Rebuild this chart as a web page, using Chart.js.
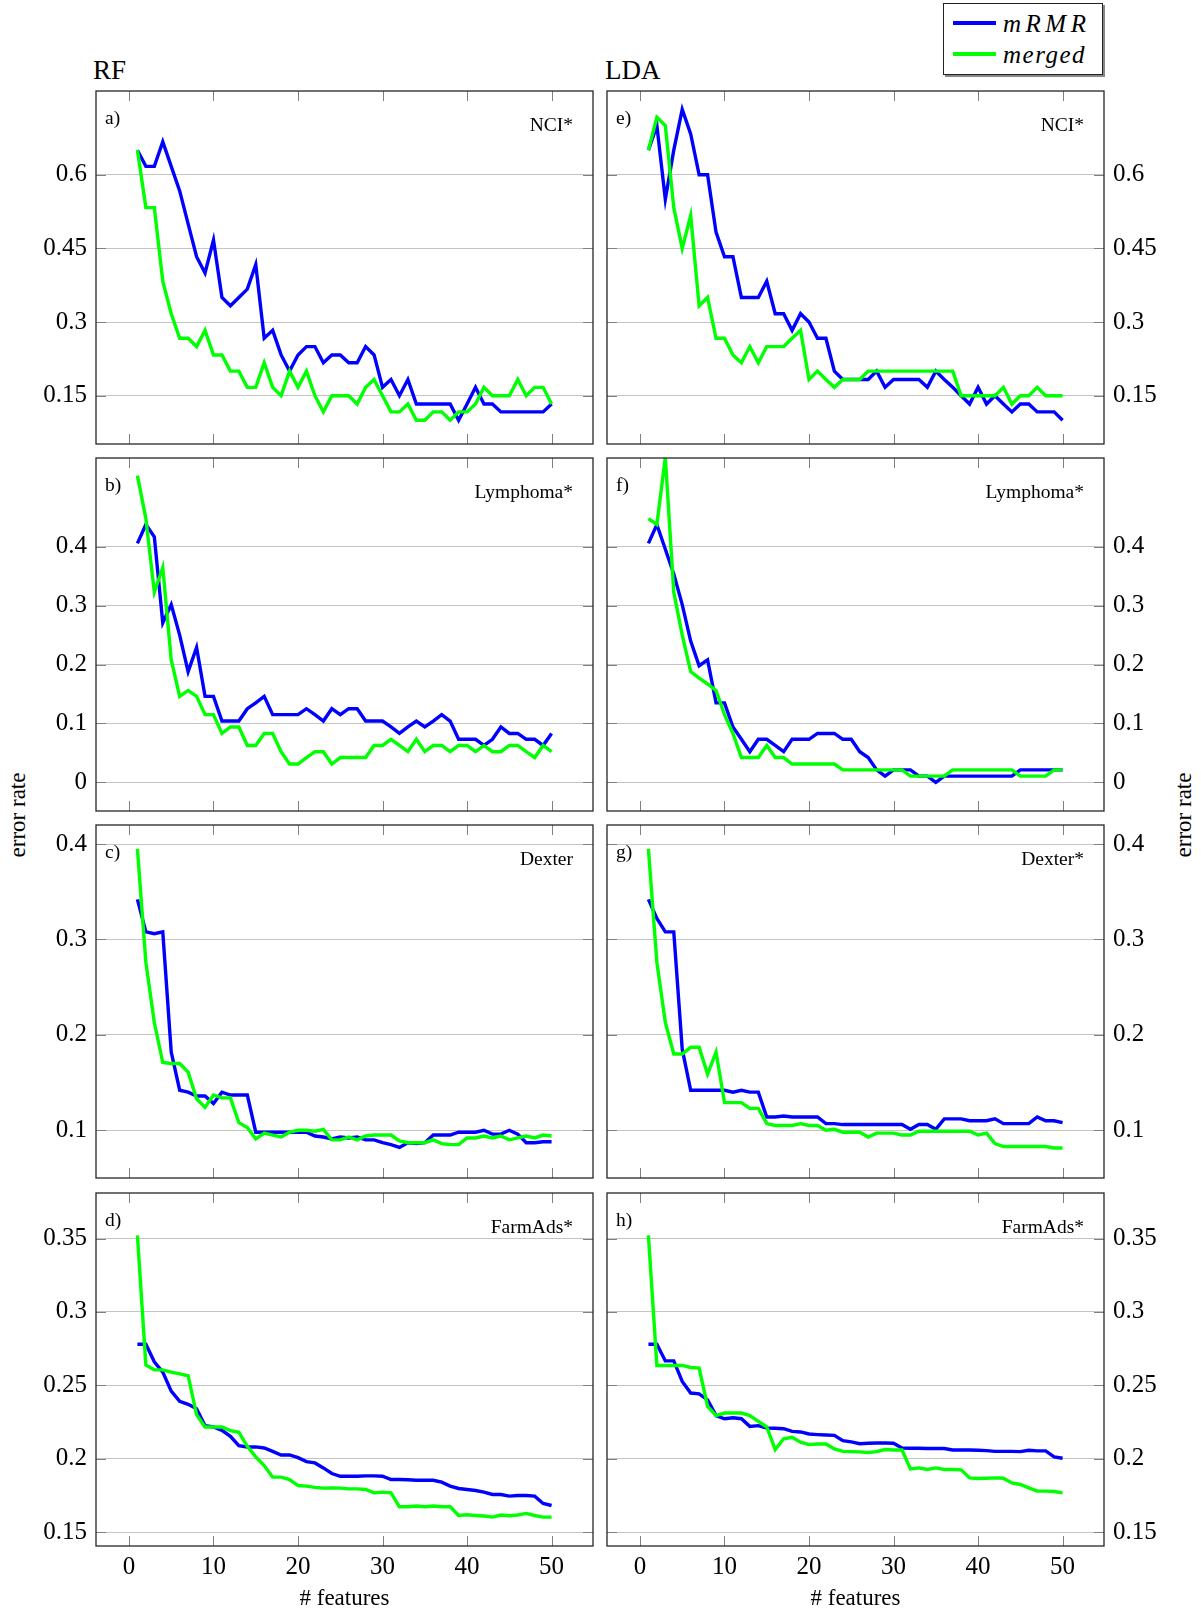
<!DOCTYPE html>
<html>
<head>
<meta charset="utf-8">
<script src="https://cdn.jsdelivr.net/npm/chart.js@4.4.1/dist/chart.umd.min.js"></script>
<style>
  html, body { margin: 0; padding: 0; background: #fff; overflow: hidden; }
  body { width: 1201px; height: 1614px; position: relative; font-family: "Liberation Serif", "Times New Roman", serif; color: #000; }
  canvas { position: absolute; }
  .txt { position: absolute; white-space: nowrap; line-height: 1; }
  .title { font-size: 27px; top: 57px; }
  .ylab { font-size: 23px; top: 815px; transform: translate(-50%, -50%) rotate(-90deg); }
  #legend { position: absolute; left: 943px; top: 3px; width: 160px; height: 72px; box-sizing: border-box;
            border: 1.3px solid #222; box-shadow: 2px 2px 0 #888; background: #fff; }
  #legend .sw { position: absolute; left: 9px; width: 43px; height: 3.6px; }
  #legend .lb { position: absolute; left: 59px; font-size: 25px; font-style: italic; line-height: 24px; white-space: nowrap; }
</style>
</head>
<body>
<div class="txt title" style="left:93px">RF</div>
<div class="txt title" style="left:605px">LDA</div>
<div class="txt ylab" style="left:17px">error rate</div>
<div class="txt ylab" style="left:1183px">error rate</div>
<div id="legend">
  <div class="sw" style="top:17px; background: rgb(0,0,255)"></div>
  <div class="lb" style="top:8px; letter-spacing:4.5px">mRMR</div>
  <div class="sw" style="top:48px; background: rgb(0,255,0)"></div>
  <div class="lb" style="top:39px; letter-spacing:1.5px">merged</div>
</div>
<script>
const features = [1, 2, 3, 4, 5, 6, 7, 8, 9, 10, 11, 12, 13, 14, 15, 16, 17, 18, 19, 20,
  21, 22, 23, 24, 25, 26, 27, 28, 29, 30, 31, 32, 33, 34, 35, 36, 37, 38, 39, 40,
  41, 42, 43, 44, 45, 46, 47, 48, 49, 50];
const xTicks = [0, 10, 20, 30, 40, 50];

const nciTicks = [0.15, 0.3, 0.45, 0.6];
const lymTicks = [0, 0.1, 0.2, 0.3, 0.4];
const dexTicks = [0.1, 0.2, 0.3, 0.4];
const farmTicks = [0.15, 0.2, 0.25, 0.3, 0.35];

// RF
const rfNciMrmr = [0.65, 0.617, 0.617, 0.667, 0.617, 0.567, 0.5, 0.433, 0.4, 0.467,
  0.35, 0.333, 0.35, 0.367, 0.417, 0.267, 0.283, 0.233, 0.2, 0.233,
  0.25, 0.25, 0.217, 0.233, 0.233, 0.217, 0.217, 0.25, 0.233, 0.167,
  0.183, 0.15, 0.183, 0.133, 0.133, 0.133, 0.133, 0.133, 0.1, 0.133,
  0.167, 0.133, 0.133, 0.117, 0.117, 0.117, 0.117, 0.117, 0.117, 0.133];
const rfNciMerged = [0.65, 0.533, 0.533, 0.383, 0.317, 0.267, 0.267, 0.25, 0.283, 0.233,
  0.233, 0.2, 0.2, 0.167, 0.167, 0.217, 0.167, 0.15, 0.2, 0.167,
  0.2, 0.15, 0.117, 0.15, 0.15, 0.15, 0.133, 0.167, 0.183, 0.15,
  0.117, 0.117, 0.133, 0.1, 0.1, 0.117, 0.117, 0.1, 0.117, 0.117,
  0.133, 0.167, 0.15, 0.15, 0.15, 0.183, 0.15, 0.167, 0.167, 0.133];

const rfLymMrmr = [0.406, 0.438, 0.417, 0.271, 0.302, 0.25, 0.188, 0.229, 0.146, 0.146,
  0.104, 0.104, 0.104, 0.125, 0.135, 0.146, 0.115, 0.115, 0.115, 0.115,
  0.125, 0.115, 0.104, 0.125, 0.115, 0.125, 0.125, 0.104, 0.104, 0.104,
  0.094, 0.083, 0.094, 0.104, 0.094, 0.104, 0.115, 0.104, 0.073, 0.073,
  0.073, 0.0625, 0.073, 0.094, 0.083, 0.083, 0.073, 0.073, 0.0625, 0.083];
const rfLymMerged = [0.521, 0.448, 0.323, 0.365, 0.208, 0.146, 0.156, 0.146, 0.115, 0.115,
  0.083, 0.094, 0.094, 0.0625, 0.0625, 0.083, 0.083, 0.052, 0.031, 0.031,
  0.042, 0.052, 0.052, 0.031, 0.042, 0.042, 0.042, 0.042, 0.0625, 0.0625,
  0.073, 0.0625, 0.052, 0.073, 0.052, 0.0625, 0.0625, 0.052, 0.0625, 0.0625,
  0.052, 0.0625, 0.052, 0.052, 0.0625, 0.0625, 0.052, 0.042, 0.0625, 0.052];

const rfDexMrmr = [0.342, 0.308, 0.306, 0.308, 0.182, 0.142, 0.14, 0.136, 0.136, 0.128,
  0.14, 0.137, 0.137, 0.137, 0.098, 0.098, 0.098, 0.098, 0.098, 0.098,
  0.098, 0.094, 0.093, 0.091, 0.093, 0.092, 0.093, 0.09, 0.09, 0.087,
  0.085, 0.082, 0.087, 0.086, 0.087, 0.095, 0.095, 0.095, 0.098, 0.098,
  0.098, 0.1, 0.096, 0.096, 0.1, 0.096, 0.087, 0.087, 0.088, 0.088];
const rfDexMerged = [0.395, 0.276, 0.213, 0.171, 0.17, 0.17, 0.161, 0.133, 0.124, 0.137,
  0.134, 0.134, 0.108, 0.103, 0.091, 0.097, 0.095, 0.093, 0.098, 0.1,
  0.1, 0.099, 0.101, 0.09, 0.09, 0.093, 0.09, 0.094, 0.095, 0.095,
  0.095, 0.089, 0.087, 0.087, 0.087, 0.09, 0.086, 0.085, 0.085, 0.092,
  0.092, 0.094, 0.092, 0.094, 0.09, 0.092, 0.094, 0.092, 0.095, 0.094];

const rfFarmMrmr = [0.278, 0.278, 0.266, 0.259, 0.246, 0.239, 0.237, 0.234, 0.2225, 0.2216,
  0.2193, 0.2152, 0.2089, 0.208, 0.208, 0.2073, 0.205, 0.2025, 0.2025, 0.2007,
  0.198, 0.1971, 0.1937, 0.1899, 0.188, 0.188, 0.188, 0.1883, 0.1883, 0.188,
  0.1858, 0.1858, 0.1856, 0.1853, 0.1853, 0.1853, 0.184, 0.1813, 0.1797, 0.179,
  0.1783, 0.1772, 0.1756, 0.1756, 0.1745, 0.1749, 0.1749, 0.1745, 0.1695, 0.1681];
const rfFarmMerged = [0.3522, 0.2639, 0.2605, 0.2605, 0.2589, 0.2578, 0.2565, 0.23, 0.2216, 0.2216,
  0.2216, 0.2191, 0.218, 0.2084, 0.2012, 0.1953, 0.1874, 0.1874, 0.1858, 0.1817,
  0.1813, 0.1804, 0.1799, 0.1801, 0.1799, 0.1794, 0.1794, 0.179, 0.1767, 0.1772,
  0.1767, 0.1672, 0.1672, 0.1677, 0.1672, 0.1677, 0.1672, 0.1672, 0.1613, 0.1618,
  0.1613, 0.1609, 0.1602, 0.1616, 0.1611, 0.1616, 0.1627, 0.1613, 0.1602, 0.1602];

// LDA
const ldaNciMrmr = [0.65, 0.7, 0.55, 0.65, 0.733, 0.683, 0.6, 0.6, 0.483, 0.433,
  0.433, 0.35, 0.35, 0.35, 0.383, 0.317, 0.317, 0.283, 0.317, 0.3,
  0.267, 0.267, 0.2, 0.183, 0.183, 0.183, 0.183, 0.2, 0.167, 0.183,
  0.183, 0.183, 0.183, 0.167, 0.2, 0.183, 0.167, 0.15, 0.133, 0.167,
  0.133, 0.15, 0.133, 0.117, 0.133, 0.133, 0.117, 0.117, 0.117, 0.1];
const ldaNciMerged = [0.65, 0.717, 0.7, 0.533, 0.45, 0.517, 0.333, 0.35, 0.267, 0.267,
  0.233, 0.217, 0.25, 0.217, 0.25, 0.25, 0.25, 0.267, 0.283, 0.183,
  0.2, 0.183, 0.167, 0.183, 0.183, 0.183, 0.2, 0.2, 0.2, 0.2,
  0.2, 0.2, 0.2, 0.2, 0.2, 0.2, 0.2, 0.15, 0.15, 0.15,
  0.15, 0.15, 0.167, 0.133, 0.15, 0.15, 0.167, 0.15, 0.15, 0.15];

const ldaLymMrmr = [0.406, 0.438, 0.396, 0.354, 0.302, 0.24, 0.198, 0.208, 0.135, 0.135,
  0.094, 0.073, 0.052, 0.073, 0.073, 0.0625, 0.052, 0.073, 0.073, 0.073,
  0.083, 0.083, 0.083, 0.073, 0.073, 0.052, 0.042, 0.021, 0.0104, 0.021,
  0.021, 0.021, 0.0104, 0.0104, 0, 0.0104, 0.0104, 0.0104, 0.0104, 0.0104,
  0.0104, 0.0104, 0.0104, 0.0104, 0.021, 0.021, 0.021, 0.021, 0.021, 0.021];
const ldaLymMerged = [0.448, 0.438, 0.552, 0.323, 0.25, 0.188, 0.177, 0.167, 0.156, 0.115,
  0.083, 0.042, 0.042, 0.042, 0.0625, 0.042, 0.042, 0.031, 0.031, 0.031,
  0.031, 0.031, 0.031, 0.021, 0.021, 0.021, 0.021, 0.021, 0.021, 0.021,
  0.021, 0.0104, 0.0104, 0.0104, 0.0104, 0.0104, 0.021, 0.021, 0.021, 0.021,
  0.021, 0.021, 0.021, 0.021, 0.0104, 0.0104, 0.0104, 0.0104, 0.021, 0.021];

const ldaDexMrmr = [0.342, 0.322, 0.308, 0.308, 0.185, 0.142, 0.142, 0.142, 0.142, 0.142,
  0.14, 0.142, 0.14, 0.14, 0.114, 0.114, 0.115, 0.114, 0.114, 0.114,
  0.114, 0.107, 0.107, 0.106, 0.106, 0.106, 0.106, 0.106, 0.106, 0.106,
  0.106, 0.101, 0.106, 0.106, 0.101, 0.112, 0.112, 0.112, 0.11, 0.11,
  0.11, 0.112, 0.107, 0.107, 0.107, 0.107, 0.114, 0.11, 0.11, 0.108];
const ldaDexMerged = [0.395, 0.276, 0.213, 0.18, 0.18, 0.187, 0.187, 0.159, 0.182, 0.129,
  0.129, 0.129, 0.123, 0.123, 0.107, 0.105, 0.105, 0.105, 0.107, 0.105,
  0.105, 0.1, 0.101, 0.098, 0.098, 0.098, 0.093, 0.097, 0.097, 0.097,
  0.095, 0.095, 0.099, 0.099, 0.099, 0.099, 0.099, 0.099, 0.099, 0.095,
  0.097, 0.086, 0.083, 0.083, 0.083, 0.083, 0.083, 0.083, 0.0815, 0.0815];

const ldaFarmMrmr = [0.278, 0.278, 0.2666, 0.2666, 0.2526, 0.2447, 0.2442, 0.2401, 0.2293, 0.2272,
  0.2279, 0.2272, 0.222, 0.2225, 0.2209, 0.2207, 0.2204, 0.2186, 0.2182, 0.2168,
  0.2164, 0.2161, 0.2159, 0.2123, 0.2114, 0.2102, 0.2105, 0.2107, 0.2107, 0.2105,
  0.2073, 0.2071, 0.2071, 0.2069, 0.2069, 0.2069, 0.2059, 0.2059, 0.2059, 0.2057,
  0.2055, 0.205, 0.205, 0.205, 0.2048, 0.2057, 0.2053, 0.2053, 0.2012, 0.2003];
const ldaFarmMerged = [0.3522, 0.2635, 0.2635, 0.2635, 0.2635, 0.2621, 0.2617, 0.2356, 0.2293, 0.2311,
  0.2311, 0.2311, 0.2293, 0.2254, 0.2216, 0.2062, 0.2136, 0.2146, 0.2112, 0.2096,
  0.21, 0.21, 0.2066, 0.205, 0.2048, 0.2046, 0.2041, 0.2048, 0.2062, 0.2059,
  0.2059, 0.193, 0.1937, 0.1926, 0.1937, 0.1926, 0.1926, 0.1924, 0.1869, 0.1865,
  0.1867, 0.1869, 0.1867, 0.1835, 0.1824, 0.1801, 0.1779, 0.1779, 0.1776, 0.1767];

const BLUE = 'rgb(0, 0, 255)';
const GREEN = 'rgb(0, 255, 0)';
const SERIF = '"Liberation Serif", "Times New Roman", serif';

// layout in page pixels
const PLOT_W = 497, PLOT_H = 353;
const COL_LEFT = [96, 607];
const AXIS_W = 80, PAD = 8, X_AXIS_H = 67;

const rows = [
  { top: 91,   yMin: 0.0516,  yMax: 0.7705, ticks: nciTicks },
  { top: 458,  yMin: -0.0488, yMax: 0.551,  ticks: lymTicks },
  { top: 825,  yMin: 0.05,    yMax: 0.42,   ticks: dexTicks },
  { top: 1193, yMin: 0.1405,  yMax: 0.381,  ticks: farmTicks }
];

const panels = [
  { letter: 'a)', name: 'NCI*',      col: 0, row: 0, mrmr: rfNciMrmr,   merged: rfNciMerged },
  { letter: 'b)', name: 'Lymphoma*', col: 0, row: 1, mrmr: rfLymMrmr,   merged: rfLymMerged },
  { letter: 'c)', name: 'Dexter',    col: 0, row: 2, mrmr: rfDexMrmr,   merged: rfDexMerged },
  { letter: 'd)', name: 'FarmAds*',  col: 0, row: 3, mrmr: rfFarmMrmr,  merged: rfFarmMerged },
  { letter: 'e)', name: 'NCI*',      col: 1, row: 0, mrmr: ldaNciMrmr,  merged: ldaNciMerged },
  { letter: 'f)', name: 'Lymphoma*', col: 1, row: 1, mrmr: ldaLymMrmr,  merged: ldaLymMerged },
  { letter: 'g)', name: 'Dexter*',   col: 1, row: 2, mrmr: ldaDexMrmr,  merged: ldaDexMerged },
  { letter: 'h)', name: 'FarmAds*',  col: 1, row: 3, mrmr: ldaFarmMrmr, merged: ldaFarmMerged }
];

Chart.defaults.font.family = SERIF;
Chart.defaults.color = '#000';

// box around the plot, inward ticks on all four sides, panel captions
const framePlugin = {
  id: 'frame',
  afterDatasetsDraw(chart, args, opts) {
    const { ctx, chartArea: a, scales } = chart;
    ctx.save();
    ctx.strokeStyle = '#808080';
    ctx.lineWidth = 1;
    ctx.beginPath();
    scales.x.ticks.forEach(t => {
      const px = Math.round(scales.x.getPixelForValue(t.value)) + 0.5;
      ctx.moveTo(px, a.top); ctx.lineTo(px, a.top + 10);
      ctx.moveTo(px, a.bottom); ctx.lineTo(px, a.bottom - 10);
    });
    scales.y.ticks.forEach(t => {
      const py = Math.round(scales.y.getPixelForValue(t.value)) + 0.5;
      ctx.moveTo(a.left, py); ctx.lineTo(a.left + 10, py);
      ctx.moveTo(a.right, py); ctx.lineTo(a.right - 10, py);
    });
    ctx.stroke();

    ctx.strokeStyle = '#262626';
    ctx.lineWidth = 1.3;
    ctx.strokeRect(a.left, a.top, a.right - a.left, a.bottom - a.top);

    ctx.fillStyle = '#000';
    ctx.font = '19.5px ' + SERIF;
    ctx.textBaseline = 'alphabetic';
    ctx.textAlign = 'left';
    ctx.fillText(opts.letter, a.left + 9, a.top + 33);
    ctx.textAlign = 'right';
    ctx.fillText(opts.name, a.right - 20, a.top + 40);
    ctx.restore();
  }
};

const toXY = vals => vals.map((v, i) => ({ x: features[i], y: v }));

panels.forEach(p => {
  const r = rows[p.row];
  const bottomRow = p.row === 3;
  const leftCol = p.col === 0;
  const w = AXIS_W + PLOT_W + PAD;
  const h = PAD + PLOT_H + (bottomRow ? X_AXIS_H : PAD);

  const cv = document.createElement('canvas');
  cv.width = w;
  cv.height = h;
  cv.style.width = w + 'px';
  cv.style.height = h + 'px';
  cv.style.left = (leftCol ? COL_LEFT[0] - AXIS_W : COL_LEFT[1] - PAD) + 'px';
  cv.style.top = (r.top - PAD) + 'px';
  document.body.appendChild(cv);

  new Chart(cv, {
    type: 'line',
    data: {
      datasets: [
        { label: 'mRMR', data: toXY(p.mrmr), borderColor: BLUE, borderWidth: 3.4,
          pointRadius: 0, tension: 0, fill: false, order: 1 },
        { label: 'merged', data: toXY(p.merged), borderColor: GREEN, borderWidth: 3.4,
          pointRadius: 0, tension: 0, fill: false, order: 0 }
      ]
    },
    options: {
      responsive: false,
      animation: false,
      events: [],
      layout: {
        padding: {
          left: leftCol ? 0 : PAD,
          right: leftCol ? PAD : 0,
          top: PAD,
          bottom: bottomRow ? 0 : PAD
        }
      },
      plugins: {
        legend: { display: false },
        tooltip: { enabled: false },
        frame: { letter: p.letter, name: p.name }
      },
      scales: {
        x: {
          type: 'linear',
          min: -3.9,
          max: 54.9,
          bounds: 'data',
          afterBuildTicks: s => { s.ticks = xTicks.map(v => ({ value: v })); },
          afterFit: s => {
            s.height = bottomRow ? X_AXIS_H : 0;
            s.paddingLeft = 0; s.paddingRight = 0;
          },
          grid: { display: false, drawTicks: false },
          border: { display: false },
          ticks: {
            display: bottomRow,
            autoSkip: false,
            maxRotation: 0,
            padding: 6,
            font: { family: SERIF, size: 25 },
            color: '#000',
            callback: v => String(v)
          },
          title: {
            display: bottomRow,
            text: '# features',
            font: { family: SERIF, size: 23 },
            color: '#000',
            padding: 0
          }
        },
        y: {
          type: 'linear',
          position: leftCol ? 'left' : 'right',
          min: r.yMin,
          max: r.yMax,
          bounds: 'data',
          afterBuildTicks: s => { s.ticks = r.ticks.map(v => ({ value: v })); },
          afterFit: s => {
            s.width = AXIS_W;
            s.paddingTop = 0; s.paddingBottom = 0;
          },
          grid: { color: '#c4c4c4', lineWidth: 1, drawTicks: false },
          border: { display: false },
          ticks: {
            padding: 9,
            font: { family: SERIF, size: 25 },
            color: '#000',
            callback: v => String(v)
          }
        }
      }
    },
    plugins: [framePlugin]
  });
});
</script>
</body>
</html>
